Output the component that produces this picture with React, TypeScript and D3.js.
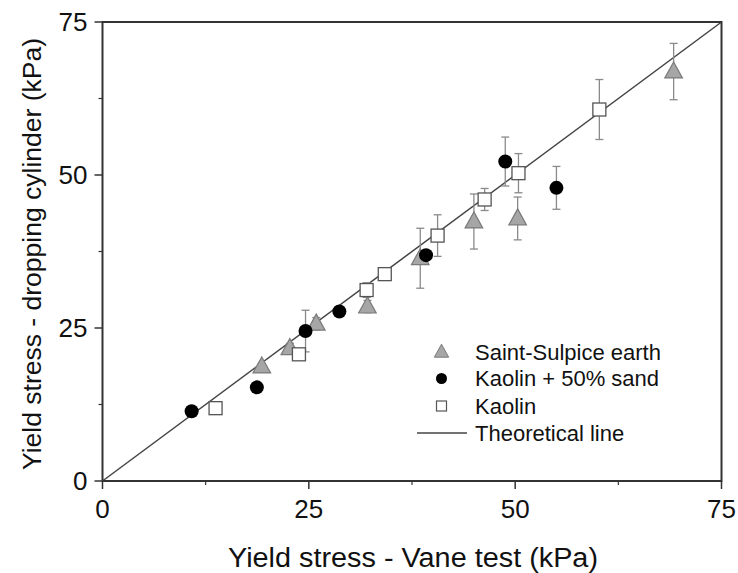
import React from "react";
import * as d3 from "d3";

const saintX = [19.3, 22.7, 25.9, 32.1, 38.5, 45.0, 50.3, 69.2];
const saintY = [18.7, 21.7, 25.7, 28.5, 36.4, 42.4, 42.9, 66.9];
const saintErr = [0.5, 0.8, 1.0, 1.0, 4.9, 4.5, 3.5, 4.6];

const sandX = [10.8, 18.7, 24.6, 28.7, 39.2, 48.8, 55.0];
const sandY = [11.4, 15.3, 24.5, 27.7, 36.9, 52.2, 47.9];
const sandErr = [0, 0, 3.4, 0, 0, 4.0, 3.5];

const kaolinX = [13.7, 23.8, 32.0, 34.2, 40.6, 46.3, 50.4, 60.2];
const kaolinY = [11.9, 20.7, 31.2, 33.8, 40.1, 46.0, 50.3, 60.7];
const kaolinErr = [0, 0.6, 1.2, 0.8, 3.4, 1.8, 3.2, 4.9];

const majorTicks = [0, 25, 50, 75];
const minorTicks = [12.5, 37.5, 62.5];
const legendLabels = ["Saint-Sulpice earth", "Kaolin + 50% sand", "Kaolin", "Theoretical line"];
const xTitle = "Yield stress - Vane test (kPa)";
const yTitle = "Yield stress - dropping cylinder (kPa)";

const W = 738, H = 573;
const L = 102.5, R = 721.5, T = 22, B = 481;
const FONT = "'Liberation Sans', Arial, sans-serif";

export default function App() {
  const x = d3.scaleLinear().domain([0, 75]).range([L, R]);
  const y = d3.scaleLinear().domain([0, 75]).range([B, T]);
  const errColor = "#8a8a8a";

  const errBars = (xs: number[], ys: number[], es: number[], key: string) =>
    xs.map((xv, i) =>
      es[i] > 0 ? (
        <g key={key + i} stroke={errColor} strokeWidth={1.3}>
          <line x1={x(xv)} x2={x(xv)} y1={y(ys[i] + es[i])} y2={y(ys[i] - es[i])} />
          <line x1={x(xv) - 4} x2={x(xv) + 4} y1={y(ys[i] + es[i])} y2={y(ys[i] + es[i])} />
          <line x1={x(xv) - 4} x2={x(xv) + 4} y1={y(ys[i] - es[i])} y2={y(ys[i] - es[i])} />
        </g>
      ) : null
    );

  const tri = (cx: number, cy: number, s: number) =>
    `M${cx},${cy - s * 0.6} L${cx + s * 0.55},${cy + s * 0.4} L${cx - s * 0.55},${cy + s * 0.4} Z`;

  const line = d3.line<number>().x((d) => x(d)).y((d) => y(d));

  const legY = [352, 378.5, 406, 433];
  const legMX = 441.5;

  return (
    <svg width={W} height={H} style={{ position: "absolute", left: 0, top: 0, background: "#fff" }}>
      <rect width={W} height={H} fill="#fff" />
      {/* theoretical line */}
      <path d={line([0, 75]) || ""} stroke="#444" strokeWidth={1.5} fill="none" />

      {errBars(saintX, saintY, saintErr, "se")}
      {errBars(sandX, sandY, sandErr, "ke")}
      {errBars(kaolinX, kaolinY, kaolinErr, "ce")}

      {saintX.map((xv, i) => (
        <path key={"s" + i} d={tri(x(xv), y(saintY[i]), 16)} fill="#a6a6a6" stroke="#7a7a7a" strokeWidth={1.2} />
      ))}
      {sandX.map((xv, i) => (
        <circle key={"k" + i} cx={x(xv)} cy={y(sandY[i])} r={7} fill="#000" />
      ))}
      {kaolinX.map((xv, i) => (
        <rect key={"c" + i} x={x(xv) - 6.5} y={y(kaolinY[i]) - 6.5} width={13} height={13} fill="#fff" stroke="#555" strokeWidth={1.3} />
      ))}

      {/* frame */}
      <rect x={L} y={T} width={R - L} height={B - T} fill="none" stroke="#333" strokeWidth={2} />

      {/* ticks */}
      {majorTicks.map((t) => (
        <g key={"mx" + t}>
          <line x1={x(t)} x2={x(t)} y1={B} y2={B + 8} stroke="#333" strokeWidth={1.5} />
          <line x1={L} x2={L - 8} y1={y(t)} y2={y(t)} stroke="#333" strokeWidth={1.5} />
          <text x={x(t)} y={B + 37} textAnchor="middle" fontFamily={FONT} fontSize={26} fill="#111">{t}</text>
          <text x={L - 15} y={y(t) + 9} textAnchor="end" fontFamily={FONT} fontSize={26} fill="#111">{t}</text>
        </g>
      ))}
      {minorTicks.map((t) => (
        <g key={"mn" + t}>
          <line x1={x(t)} x2={x(t)} y1={B} y2={B + 4} stroke="#333" strokeWidth={1.2} />
          <line x1={L} x2={L - 4} y1={y(t)} y2={y(t)} stroke="#333" strokeWidth={1.2} />
        </g>
      ))}

      {/* axis titles */}
      <text x={413} y={567} textAnchor="middle" fontFamily={FONT} fontSize={27} textLength={370} lengthAdjust="spacingAndGlyphs" fill="#111">{xTitle}</text>
      <text transform={`translate(41,254) rotate(-90)`} textAnchor="middle" fontFamily={FONT} fontSize={26} textLength={432} lengthAdjust="spacingAndGlyphs" fill="#111">{yTitle}</text>

      {/* legend */}
      <path d={tri(legMX, legY[0], 13)} fill="#a6a6a6" stroke="#7a7a7a" strokeWidth={1} />
      <circle cx={legMX} cy={legY[1]} r={5.5} fill="#000" />
      <rect x={legMX - 5} y={legY[2] - 5} width={10} height={10} fill="#fff" stroke="#555" strokeWidth={1.2} />
      <line x1={417} x2={467} y1={legY[3]} y2={legY[3]} stroke="#444" strokeWidth={1.5} />
      {legendLabels.map((lab, i) => (
        <text key={lab} x={475} y={legY[i] + 7.5} fontFamily={FONT} fontSize={22} fill="#111">{lab}</text>
      ))}
    </svg>
  );
}
